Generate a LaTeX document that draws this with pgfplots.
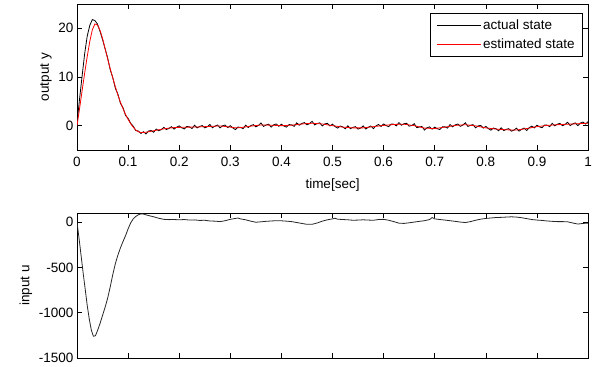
\documentclass[border=0pt]{standalone}
\usepackage{pgfplots}
\pgfplotsset{compat=1.18}
\usepackage{fontspec}
\setmainfont{Liberation Sans}
\newcommand{\fsz}{\fontsize{13.5bp}{15bp}\selectfont}
\pgfplotsset{
  mystyle/.style={
    scale only axis, width=511bp,
    xmin=0, xmax=1,
    xtick={0,0.1,0.2,0.3,0.4,0.5,0.6,0.7,0.8,0.9,1},
    tick align=inside, major tick length=5bp,
    tick style={black, line width=0.6bp},
    axis line style={line width=0.8bp},
    /pgf/number format/assume math mode=true,
    tick label style={font=\fsz},
    label style={font=\fsz},
    legend style={font=\fsz},
  }
}
\begin{document}
\begin{tikzpicture}[x=1bp,y=1bp]
\useasboundingbox (0,0) rectangle (610,366);
\begin{axis}[mystyle, height=146bp, at={(77bp,216bp)}, anchor=south west,
  xticklabels={0,0.1,0.2,0.3,0.4,0.5,0.6,0.7,0.8,0.9,1},
  xticklabel style={yshift=-4bp},
  xlabel style={yshift=-5bp},
  ymin=-5, ymax=25, ytick={0,10,20}, yticklabels={0,10,20},
  xlabel={time[sec]}, ylabel={output y},
  legend cell align=left,
  legend style={at={(1,1)}, anchor=north east, xshift=-5bp, yshift=-9bp,
    draw=black, line width=0.6bp, inner xsep=6bp, inner ysep=4bp, row sep=4bp},
  legend image post style={line width=0.8bp},
  legend image code/.code={\draw[#1] (0bp,0bp) -- (44bp,0bp);},
]
\addplot[black, line width=0.8bp] coordinates {
(0,0.5)(0.005,5.5)(0.01,10.2)(0.015,14.8)(0.02,18.4)(0.025,20.6)(0.03,21.8)(0.035,21.6)(0.04,20.9)(0.045,19.4)
(0.05,17.7)(0.055,15.8)(0.06,13.9)(0.065,11.5)(0.07,9.9)(0.075,7.7)(0.08,6.5)(0.085,4.6)(0.09,3.7)(0.095,2.1)
(0.1,1.5)(0.105,0.5)(0.11,-0.1)(0.115,-1.0)(0.12,-1.1)(0.125,-1.6)(0.13,-1.25)(0.135,-1.7)(0.14,-1.1)(0.145,-1.0)
(0.15,-1.35)(0.155,-0.7)(0.16,-1.05)(0.165,-0.8)(0.17,-0.35)(0.175,-0.8)(0.18,-0.55)(0.185,-0.2)(0.19,-0.7)(0.195,-0.3)
(0.2,-0.05)(0.205,-0.44)(0.21,-0.68)(0.215,-0.16)(0.22,-0.25)(0.225,-0.59)(0.23,0.08)(0.235,-0.46)(0.24,-0.15)(0.245,0.03)
(0.25,-0.45)(0.255,-0.23)(0.26,0.25)(0.265,-0.43)(0.27,-0.1)(0.275,0.13)(0.28,-0.45)(0.285,-0.01)(0.29,0.13)(0.295,-0.39)
(0.3,0.0)(0.305,-0.48)(0.31,-0.8)(0.315,-0.28)(0.32,-0.35)(0.325,-0.63)(0.33,0.1)(0.335,-0.38)(0.34,0.0)(0.345,0.21)
(0.35,-0.23)(0.355,0.04)(0.36,0.55)(0.365,-0.16)(0.37,0.13)(0.375,0.31)(0.38,-0.3)(0.385,0.18)(0.39,0.35)(0.395,-0.13)
(0.4,0.3)(0.405,-0.08)(0.41,-0.3)(0.415,0.23)(0.42,0.15)(0.425,-0.14)(0.43,0.58)(0.435,0.09)(0.44,0.45)(0.445,0.64)
(0.45,0.18)(0.455,0.41)(0.46,0.9)(0.465,0.16)(0.47,0.43)(0.475,0.59)(0.48,-0.05)(0.485,0.36)(0.49,0.48)(0.495,-0.06)
(0.5,0.3)(0.505,-0.18)(0.51,-0.5)(0.515,-0.08)(0.52,-0.25)(0.525,-0.64)(0.53,-0.03)(0.535,-0.61)(0.54,-0.35)(0.545,-0.2)
(0.55,-0.7)(0.555,-0.5)(0.56,-0.05)(0.565,-0.69)(0.57,-0.33)(0.575,-0.06)(0.58,-0.6)(0.585,-0.04)(0.59,0.23)(0.595,-0.16)
(0.6,0.35)(0.605,0.0)(0.61,-0.2)(0.615,0.35)(0.62,0.3)(0.625,-0.04)(0.63,0.63)(0.635,0.09)(0.64,0.4)(0.645,0.48)
(0.65,-0.1)(0.655,0.03)(0.66,0.4)(0.665,-0.43)(0.67,-0.25)(0.675,-0.18)(0.68,-0.9)(0.685,-0.43)(0.69,-0.25)(0.695,-0.73)
(0.7,-0.3)(0.705,-0.63)(0.71,-0.8)(0.715,-0.23)(0.72,-0.25)(0.725,-0.51)(0.73,0.23)(0.735,-0.24)(0.74,0.15)(0.745,0.34)
(0.75,-0.13)(0.755,0.11)(0.76,0.6)(0.765,-0.16)(0.77,0.08)(0.775,0.21)(0.78,-0.45)(0.785,-0.05)(0.79,0.05)(0.795,-0.5)
(0.8,-0.15)(0.805,-0.61)(0.81,-0.93)(0.815,-0.49)(0.82,-0.65)(0.825,-1.04)(0.83,-0.43)(0.835,-1.01)(0.84,-0.75)(0.845,-0.61)
(0.85,-1.13)(0.855,-0.94)(0.86,-0.5)(0.865,-1.13)(0.87,-0.75)(0.875,-0.48)(0.88,-1.0)(0.885,-0.4)(0.89,-0.1)(0.895,-0.45)
(0.9,0.1)(0.905,-0.24)(0.91,-0.43)(0.915,0.14)(0.92,0.1)(0.925,-0.21)(0.93,0.48)(0.935,-0.04)(0.94,0.3)(0.945,0.48)
(0.95,0.0)(0.955,0.23)(0.96,0.7)(0.965,0.03)(0.97,0.35)(0.975,0.58)(0.98,0.0)(0.985,0.53)(0.99,0.75)(0.995,0.33)(1.0,0.8)
};
\addlegendentry{actual state}
\addplot[red, line width=0.8bp] coordinates {
(0,0)(0.005,3.5)(0.01,7.2)(0.015,10.8)(0.02,14.2)(0.025,17.3)(0.03,19.7)(0.035,20.9)(0.04,20.7)(0.045,19.6)
(0.05,17.9)(0.055,15.8)(0.06,13.7)(0.065,11.7)(0.07,9.8)(0.075,8.0)(0.08,6.3)(0.085,4.8)(0.09,3.5)(0.095,2.3)
(0.1,1.3)(0.105,0.4)(0.11,-0.3)(0.115,-0.9)(0.12,-1.25)(0.125,-1.4)(0.13,-1.4)(0.135,-1.35)(0.14,-1.25)(0.15,-1.05)
(0.16,-0.85)(0.17,-0.65)(0.18,-0.5)(0.19,-0.4)(0.2,-0.35)(0.22,-0.3)(0.24,-0.25)(0.26,-0.15)(0.28,-0.05)(0.3,-0.3)
(0.31,-0.45)(0.32,-0.4)(0.34,-0.1)(0.36,0.15)(0.38,0.1)(0.4,0.0)(0.42,0.1)(0.44,0.35)(0.46,0.5)(0.48,0.35)
(0.5,0.0)(0.52,-0.3)(0.54,-0.45)(0.56,-0.45)(0.58,-0.2)(0.6,0.05)(0.62,0.25)(0.64,0.3)(0.66,0.0)(0.68,-0.5)
(0.7,-0.6)(0.72,-0.3)(0.74,0.05)(0.76,0.2)(0.78,-0.05)(0.8,-0.45)(0.82,-0.7)(0.84,-0.85)(0.86,-0.9)(0.88,-0.6)
(0.9,-0.2)(0.92,0.05)(0.94,0.2)(0.96,0.3)(0.98,0.4)(1.0,0.5)
};
\addlegendentry{estimated state}
\end{axis}
\begin{axis}[mystyle, height=145bp, at={(77bp,8bp)}, anchor=south west,
  xticklabels={},
  ymin=-1500, ymax=100, ytick={-1500,-1000,-500,0}, yticklabels={-1500,-1000,-500,0},
  ylabel={input u},
]
\addplot[black!85, line width=0.8bp] coordinates {
(0,0)(0.004,-180)(0.008,-370)(0.012,-560)(0.016,-740)(0.02,-920)(0.024,-1070)(0.028,-1190)(0.032,-1260)(0.036,-1255)
(0.04,-1200)(0.045,-1120)(0.05,-1030)(0.055,-940)(0.06,-840)(0.065,-715)(0.07,-580)(0.075,-460)(0.08,-365)(0.085,-285)
(0.09,-215)(0.095,-150)(0.1,-75)(0.105,-10)(0.11,35)(0.115,62)(0.12,80)(0.125,90)(0.13,88)(0.14,72)
(0.15,58)(0.16,42)(0.17,30)(0.18,27)(0.19,28)(0.2,25)(0.21,28)(0.22,22)(0.23,24)(0.24,18)
(0.25,20)(0.26,12)(0.27,10)(0.28,5)(0.29,15)(0.3,30)(0.31,40)(0.315,45)(0.32,35)(0.33,25)
(0.34,10)(0.35,-2)(0.36,3)(0.37,8)(0.38,12)(0.39,15)(0.4,14)(0.41,10)(0.42,5)(0.43,-5)
(0.44,-15)(0.45,-25)(0.46,-25)(0.47,-10)(0.48,10)(0.49,25)(0.5,35)(0.505,42)(0.51,32)(0.52,28)
(0.53,25)(0.54,20)(0.55,22)(0.56,25)(0.57,22)(0.58,20)(0.59,28)(0.6,30)(0.61,20)(0.62,5)
(0.63,-12)(0.64,-15)(0.65,-8)(0.66,0)(0.67,8)(0.68,15)(0.69,28)(0.695,50)(0.7,35)(0.71,28)
(0.72,22)(0.73,15)(0.74,8)(0.75,0)(0.76,-5)(0.77,5)(0.78,20)(0.79,32)(0.8,40)(0.81,45)
(0.82,50)(0.83,52)(0.84,55)(0.85,58)(0.86,55)(0.87,48)(0.88,38)(0.89,28)(0.9,22)(0.91,18)
(0.92,12)(0.93,8)(0.94,5)(0.95,5)(0.96,3)(0.97,-10)(0.98,-22)(0.99,-15)(1.0,-12)
};
\end{axis}
\end{tikzpicture}
\end{document}
